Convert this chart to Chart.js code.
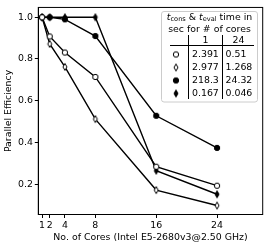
<!DOCTYPE html>
<html><head><meta charset="utf-8">
<script src="https://cdn.jsdelivr.net/npm/chart.js@4"></script>
<style>html,body{margin:0;padding:0;background:#fff}#wrap{width:269px;height:248px;position:relative}</style>
</head><body><div id="wrap"><canvas id="c" width="269" height="248"></canvas></div>
<script>
const cores = [1, 2, 4, 8, 16, 24];
const xTicks = [1, 2, 4, 8, 16, 24];
const yTicks = [0.2, 0.4, 0.6, 0.8, 1.0];
const effOpenCircle = [1.0, 0.908, 0.831, 0.714, 0.284, 0.193];
const effOpenDiamond = [1.0, 0.872, 0.762, 0.512, 0.172, 0.098];
const effFilledCircle = [1.0, 1.0, 0.99, 0.91, 0.528, 0.374];
const effFilledDiamond = [1.0, 1.0, 1.0, 1.0, 0.265, 0.152];
const tableCols = ['1', '24'];
const tCores1 = ['2.391', '2.977', '218.3', '0.167'];
const tCores24 = ['0.51', '1.268', '24.32', '0.046'];
const xLabel = 'No. of Cores (Intel E5-2680v3@2.50 GHz)';
const yLabel = 'Parallel Efficiency';

const FONT = 'DejaVu Sans';
const FS = 9.4;

function makeMarker(shape, filled) {
  const c = document.createElement('canvas');
  c.width = 10; c.height = 10;
  const g = c.getContext('2d');
  g.lineWidth = 1;
  g.strokeStyle = '#000';
  g.fillStyle = filled ? '#000' : '#fff';
  g.beginPath();
  if (shape === 'circle') {
    g.arc(5, 5, 2.7, 0, Math.PI * 2);
  } else {
    g.moveTo(5, 1.5); g.lineTo(7, 5); g.lineTo(5, 8.5); g.lineTo(3, 5); g.closePath();
  }
  g.fill(); g.stroke();
  return c;
}
const markers = [
  makeMarker('circle', false),
  makeMarker('diamond', false),
  makeMarker('circle', true),
  makeMarker('diamond', true)
];
const series = [effOpenCircle, effOpenDiamond, effFilledCircle, effFilledDiamond];

const datasets = series.map((s, i) => ({
  data: cores.map((c, j) => ({x: c, y: s[j]})),
  borderColor: '#000',
  borderWidth: 1.4,
  pointStyle: markers[i],
  pointRadius: 3,
  pointHoverRadius: 3,
  showLine: true,
  fill: false,
  tension: 0
}));

const framePlugin = {
  id: 'frame',
  afterDatasetsDraw(chart) {
    const {ctx, chartArea: a} = chart;
    ctx.save();
    ctx.strokeStyle = '#000';
    ctx.lineWidth = 1;
    ctx.strokeRect(a.left, a.top, a.right - a.left, a.bottom - a.top);
    ctx.restore();
  }
};

const tablePlugin = {
  id: 'tableLegend',
  afterDraw(chart) {
    const ctx = chart.ctx;
    ctx.save();
    ctx.beginPath();
    ctx.roundRect(161.5, 11.5, 96, 90.5, 2.5);
    ctx.fillStyle = 'rgba(255,255,255,0.8)';
    ctx.fill();
    ctx.strokeStyle = '#cccccc';
    ctx.lineWidth = 1;
    ctx.stroke();

    ctx.fillStyle = '#000';
    ctx.textBaseline = 'middle';
    const cx = 209.5;
    const parts = [
      {t: 't', f: 'italic ' + FS + 'px "' + FONT + '"', dy: 0},
      {t: 'cons', f: (FS * 0.7).toFixed(2) + 'px "' + FONT + '"', dy: 2},
      {t: ' & ', f: FS + 'px "' + FONT + '"', dy: 0},
      {t: 't', f: 'italic ' + FS + 'px "' + FONT + '"', dy: 0},
      {t: 'eval', f: (FS * 0.7).toFixed(2) + 'px "' + FONT + '"', dy: 2},
      {t: ' time in', f: FS + 'px "' + FONT + '"', dy: 0}
    ];
    let total = 0;
    parts.forEach(p => { ctx.font = p.f; p.w = ctx.measureText(p.t).width; total += p.w; });
    let x = cx - total / 2;
    ctx.textAlign = 'left';
    parts.forEach(p => { ctx.font = p.f; ctx.fillText(p.t, x, 17.5 + p.dy); x += p.w; });

    ctx.font = FS + 'px "' + FONT + '"';
    ctx.textAlign = 'center';
    ctx.fillText('sec for # of cores', cx, 29.5);
    ctx.fillText(tableCols[0], 205.5, 41);
    ctx.fillText(tableCols[1], 238.5, 41);

    ctx.strokeStyle = '#000';
    ctx.lineWidth = 1;
    ctx.beginPath();
    ctx.moveTo(170, 45.5); ctx.lineTo(254, 45.5);
    ctx.moveTo(188.5, 35); ctx.lineTo(188.5, 99);
    ctx.moveTo(222.5, 35); ctx.lineTo(222.5, 99);
    ctx.stroke();

    const rowsY = [54.5, 67.5, 80.5, 93.5];
    ctx.textAlign = 'left';
    rowsY.forEach((y, i) => {
      ctx.drawImage(markers[i], 176 - 5, y - 5);
      ctx.fillText(tCores1[i], 192, y);
      ctx.fillText(tCores24[i], 225.5, y);
    });
    ctx.restore();
  }
};

new Chart(document.getElementById('c'), {
  type: 'scatter',
  data: {datasets},
  plugins: [framePlugin, tablePlugin],
  options: {
    responsive: false,
    animation: false,
    devicePixelRatio: 1,
    layout: {padding: {top: 5, right: 6.3, left: 0, bottom: 0}},
    plugins: {legend: {display: false}, tooltip: {enabled: false}},
    scales: {
      x: {
        type: 'linear',
        min: 0.5, max: 30,
        afterBuildTicks: s => { s.ticks = xTicks.map(v => ({value: v})); },
        afterFit: s => { s.height = 33.5; },
        ticks: {color: '#000', font: {family: FONT, size: FS}, padding: 2, autoSkip: false, maxRotation: 0,
                callback: v => String(v)},
        grid: {drawOnChartArea: false, drawTicks: true, tickLength: 3.5, color: '#000', tickWidth: 1},
        border: {display: true, color: '#000', width: 1},
        title: {display: true, text: xLabel, color: '#000', font: {family: FONT, size: FS}, padding: {top: 0, bottom: 4.8}}
      },
      y: {
        min: 0.055, max: 1.047,
        afterBuildTicks: s => { s.ticks = yTicks.map(v => ({value: v})); },
        afterFit: s => { s.width = 38.3; },
        ticks: {color: '#000', font: {family: FONT, size: FS}, padding: 1.8, callback: v => v.toFixed(1)},
        grid: {drawOnChartArea: false, drawTicks: true, tickLength: 3.5, color: '#000', tickWidth: 1},
        border: {display: true, color: '#000', width: 1},
        title: {display: true, text: yLabel, color: '#000', font: {family: FONT, size: FS}, padding: {top: 3.4, bottom: 0}}
      }
    }
  }
});
</script></body></html>
